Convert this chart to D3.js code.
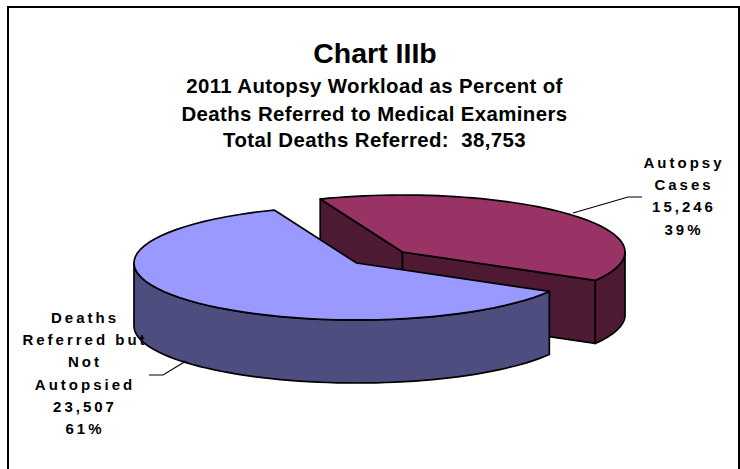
<!DOCTYPE html>
<html><head><meta charset="utf-8">
<style>html,body{margin:0;padding:0;background:#fff;overflow:hidden}svg{display:block}
text{font-family:"Liberation Sans",Arial,sans-serif;font-weight:bold;fill:#000;text-anchor:middle;white-space:pre}</style>
<script src="https://cdn.jsdelivr.net/npm/d3@7"></script></head><body>
<script>
const categories=["Autopsy Cases","Deaths Referred but Not Autopsied"];
const values=[15246,23507];
const shares=["39%","61%"];
const topColors=["#993366","#9999FF"];
const sideColors=["#4D1933","#4D4D80"];
const titleLines=["2011 Autopsy Workload as Percent of","Deaths Referred to Medical Examiners","Total Deaths Referred:  38,753"];
const labelLines=[["Autopsy","Cases","15,246","39%"],["Deaths","Referred but","Not","Autopsied","23,507","61%"]];

const W=740,H=469,rx=222.5,ry=57,depth=63;
const centers=[[402.5,252],[356.5,263]];
const svg=d3.select("body").append("svg").attr("width",W).attr("height",H);
svg.append("rect").attr("x",8).attr("y",7).attr("width",731).attr("height",470)
  .attr("fill","#fff").attr("stroke","#000").attr("stroke-width",2);

const pie=d3.pie().sort(null).startAngle(-21.7*Math.PI/180).endAngle((360-21.7)*Math.PI/180);
const arcs=pie(values);
const pt=(c,a,dy=0)=>[c[0]+rx*Math.sin(a),c[1]-ry*Math.cos(a)+dy];
const line=d3.line();
const angs=(a0,a1)=>d3.range(0,61).map(i=>a0+(a1-a0)*i/60);
const S={stroke:"#000","stroke-width":1.7,"stroke-linejoin":"round"};
function draw(d,fill){const p=svg.append("path").attr("d",d).attr("fill",fill);for(const k in S)p.attr(k,S[k]);return p;}
function wall(c,a0,a1,fill){
  const A=angs(a0,a1);
  draw(line([...A.map(a=>pt(c,a)),...A.slice().reverse().map(a=>pt(c,a,depth))])+"Z",fill);
}
function sector(c,a0,a1,fill){
  draw(line([c,...angs(a0,a1).map(a=>pt(c,a))])+"Z",fill);
}
function cut(c,a,fill){
  const e=pt(c,a);
  draw(line([c,e,[e[0],e[1]+depth],[c[0],c[1]+depth]])+"Z",fill);
}
// red slice (behind)
const r=arcs[0],b=arcs[1];
cut(centers[0],r.startAngle,sideColors[0]);
cut(centers[0],r.endAngle,sideColors[0]);
wall(centers[0],Math.PI/2,r.endAngle,sideColors[0]);
sector(centers[0],r.startAngle,r.endAngle,topColors[0]);
// blue slice (front)
wall(centers[1],b.startAngle,1.5*Math.PI,sideColors[1]);
sector(centers[1],b.startAngle,b.endAngle,topColors[1]);

// leader lines
const leader=(pts)=>svg.append("path").attr("d",line(pts)).attr("fill","none").attr("stroke","#000").attr("stroke-width",1.2);
leader([[573,213],[628,197],[642,197]]);
leader([[186,361],[163,375],[149,375]]);

// titles
svg.append("text").attr("x",375).attr("y",63).attr("font-size",28.5).text("Chart IIIb");
const ty=[93,121,147];
titleLines.forEach((t,i)=>svg.append("text").attr("x",374.5).attr("y",ty[i]).attr("font-size",20.4).attr("letter-spacing",0.4).text(t));
// labels
const lab=(cx,y0,lines)=>lines.forEach((t,i)=>svg.append("text").attr("x",cx).attr("y",y0+i*22.2)
  .attr("font-size",15).attr("letter-spacing",3).text(t));
lab(684,168,labelLines[0]);
lab(85,323,labelLines[1]);
</script></body></html>
